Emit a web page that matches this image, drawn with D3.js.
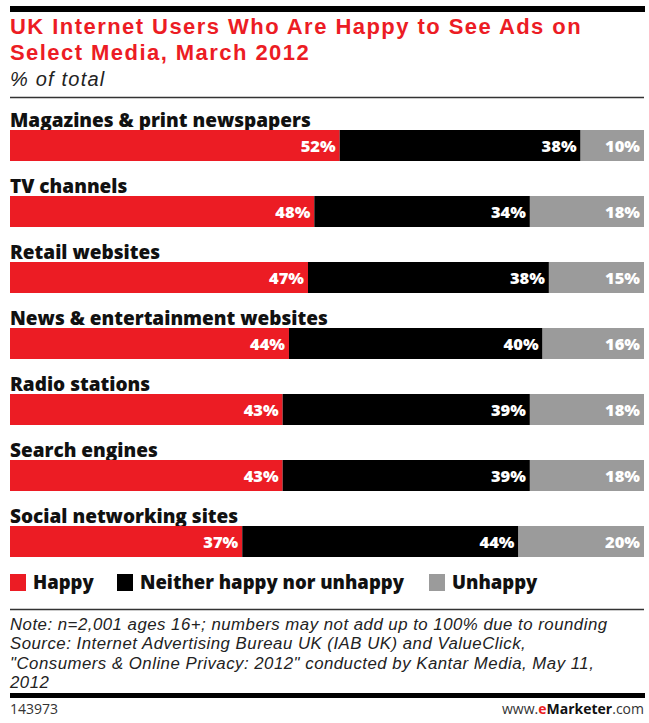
<!DOCTYPE html>
<html>
<head>
<meta charset="utf-8">
<script src="https://cdn.jsdelivr.net/npm/d3@7"></script>
<style>
  html, body { margin: 0; padding: 0; background: #fff; }
  svg { display: block; }
</style>
</head>
<body>
<svg id="chart" width="649" height="723"></svg>
<script>
const categories = [
  "Magazines & print newspapers",
  "TV channels",
  "Retail websites",
  "News & entertainment websites",
  "Radio stations",
  "Search engines",
  "Social networking sites"
];
const happy   = [52, 48, 47, 44, 43, 43, 37];
const neither = [38, 34, 38, 40, 39, 39, 44];
const unhappy = [10, 18, 15, 16, 18, 18, 20];
const seriesNames = ["Happy", "Neither happy nor unhappy", "Unhappy"];
const seriesColors = ["#ec1c24", "#000000", "#9b9b9b"];

const titleLines = ["UK Internet Users Who Are Happy to See Ads on", "Select Media, March 2012"];
const subtitle = "% of total";
const notes = [
  "Note: n=2,001 ages 16+; numbers may not add up to 100% due to rounding",
  "Source: Internet Advertising Bureau UK (IAB UK) and ValueClick,",
  "\"Consumers & Online Privacy: 2012\" conducted by Kantar Media, May 11,",
  "2012"
];
const chartId = "143973";

const svg = d3.select("#chart");
const L = 10, R = 644;
const font = "'Open Sans', 'Liberation Sans', sans-serif";
const tightFont = "'Liberation Sans', Arial, sans-serif";

// top rule
svg.append("rect").attr("x", L).attr("y", 6).attr("width", R - L + 1).attr("height", 6).attr("fill", "#000");

// title
svg.selectAll("text.title").data(titleLines).join("text")
  .attr("class", "title")
  .attr("x", L).attr("y", (d, i) => 34 + i * 26)
  .attr("font-family", tightFont).attr("font-weight", 700).attr("font-size", 22)
  .attr("letter-spacing", 1.45)
  .attr("fill", "#ec1c24")
  .text(d => d);

svg.append("text").attr("x", L).attr("y", 86)
  .attr("font-family", tightFont).attr("font-style", "italic")
  .attr("font-size", 20).attr("letter-spacing", 1.2).attr("fill", "#222").text(subtitle);

svg.append("line").attr("x1", L).attr("x2", R).attr("y1", 97.5).attr("y2", 97.5)
  .attr("stroke", "#333").attr("stroke-width", 1.5);

// rows
const y = d3.scaleBand().domain(categories).range([97, 97 + categories.length * 66]);
const rows = categories.map((c, i) => ({ c, vals: [happy[i], neither[i], unhappy[i]] }));

const g = svg.selectAll("g.row").data(rows).join("g").attr("class", "row");

g.append("text")
  .attr("x", L).attr("y", d => y(d.c) + 30)
  .attr("font-family", font).attr("font-weight", 800).attr("font-size", 19)
  .attr("fill", "#111").text(d => d.c);

g.each(function(d) {
  const total = d3.sum(d.vals);
  const x = d3.scaleLinear().domain([0, total]).range([L, R]);
  let acc = 0;
  const segs = d.vals.map((v, k) => { const s = { x0: acc, x1: acc + v, v, k }; acc += v; return s; });
  const gg = d3.select(this);
  const by = y(d.c) + 33;
  gg.selectAll("rect.seg").data(segs).join("rect").attr("class", "seg")
    .attr("x", s => x(s.x0)).attr("width", s => x(s.x1) - x(s.x0))
    .attr("y", by).attr("height", 31)
    .attr("fill", s => seriesColors[s.k]);
  gg.selectAll("text.val").data(segs).join("text").attr("class", "val")
    .attr("x", s => x(s.x1) - 4).attr("y", by + 22)
    .attr("text-anchor", "end")
    .attr("font-family", font).attr("font-weight", 800).attr("font-size", 16.5)
    .attr("fill", "#fff").text(s => s.v + "%");
});

// legend
const legendX = [10, 117, 429];
const lg = svg.selectAll("g.legend").data(seriesNames).join("g").attr("class", "legend")
  .attr("transform", (d, i) => `translate(${legendX[i]},0)`);
lg.append("rect").attr("x", 0).attr("y", 574).attr("width", 16).attr("height", 17)
  .attr("fill", (d, i) => seriesColors[i]);
lg.append("text").attr("x", 23).attr("y", 589)
  .attr("font-family", font).attr("font-weight", 800).attr("font-size", 18.5)
  .attr("fill", "#111").text(d => d);

svg.append("line").attr("x1", L).attr("x2", R).attr("y1", 609.5).attr("y2", 609.5)
  .attr("stroke", "#333").attr("stroke-width", 1.5);

// notes
svg.selectAll("text.note").data(notes).join("text").attr("class", "note")
  .attr("x", L).attr("y", (d, i) => 630 + i * 19.4)
  .attr("font-family", tightFont).attr("font-style", "italic")
  .attr("font-size", 16.8).attr("letter-spacing", 0.5)
  .attr("fill", "#222").text(d => d);

svg.append("rect").attr("x", L).attr("y", 693).attr("width", R - L + 1).attr("height", 5).attr("fill", "#000");

svg.append("text").attr("x", L).attr("y", 714)
  .attr("font-family", font).attr("font-size", 14).attr("fill", "#333").text(chartId);

const ft = svg.append("text").attr("x", R).attr("y", 714).attr("text-anchor", "end")
  .attr("font-family", font).attr("font-size", 14).attr("fill", "#333");
ft.append("tspan").text("www.");
ft.append("tspan").attr("fill", "#ec1c24").attr("font-weight", 700).text("e");
ft.append("tspan").attr("font-weight", 700).attr("fill", "#111").text("Marketer");
ft.append("tspan").text(".com");
</script>
</body>
</html>
